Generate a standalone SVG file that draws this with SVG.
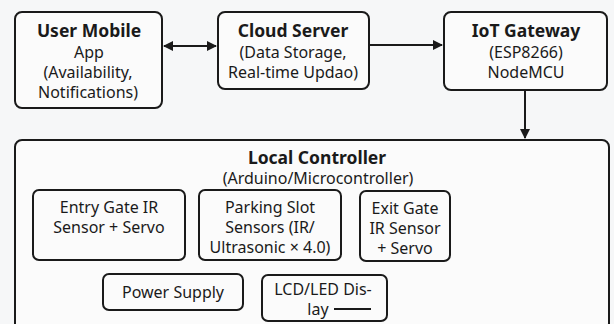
<svg xmlns="http://www.w3.org/2000/svg" width="614" height="324" viewBox="0 0 614 324">
<defs>
<style>
.box{fill:#fbfbfb;stroke:#1a1a1a;stroke-width:2}
.t{font-family:"Noto Sans","Open Sans",sans-serif;font-size:16px;fill:#1a1a1a;text-anchor:middle}
.b{font-weight:bold;font-size:17.5px}
.ln{stroke:#1a1a1a;stroke-width:2;fill:none}
</style>
<marker id="ah" viewBox="0 0 10 10" refX="9" refY="5" markerWidth="5" markerHeight="5" orient="auto-start-reverse" markerUnits="strokeWidth">
<path d="M0,0 L10,5 L0,10 z" fill="#1a1a1a"/>
</marker>
</defs>
<rect width="614" height="324" fill="#f6f7f8"/>
<g id="connectors">
<line class="ln" x1="164" y1="46" x2="216" y2="46" marker-start="url(#ah)" marker-end="url(#ah)"/>
<line class="ln" x1="370" y1="45" x2="442" y2="45" marker-end="url(#ah)"/>
<line class="ln" x1="525" y1="91" x2="525" y2="138" marker-end="url(#ah)"/>
</g>
<g id="user-mobile">
<rect class="box" x="15" y="12" width="147" height="96" rx="7"/>
<text class="t b" x="89" y="37">User Mobile</text>
<text class="t" x="89" y="58">App</text>
<text class="t" x="88" y="78">(Availability,</text>
<text class="t" x="88" y="98">Notifications)</text>
</g>
<g id="cloud-server">
<rect class="box" x="218" y="12" width="151" height="77" rx="7"/>
<text class="t b" x="293" y="37">Cloud Server</text>
<text class="t" x="293" y="58">(Data Storage,</text>
<text class="t" x="293" y="78">Real-time Updao)</text>
</g>
<g id="iot-gateway">
<rect class="box" x="444" y="12" width="163" height="78" rx="7"/>
<text class="t b" x="526" y="37">IoT Gateway</text>
<text class="t" x="526" y="58">(ESP8266)</text>
<text class="t" x="526" y="78">NodeMCU</text>
</g>
<g id="local-controller">
<rect class="box" x="15" y="140" width="594" height="190" rx="7"/>
<text class="t b" x="317" y="164">Local Controller</text>
<text class="t" x="318" y="184">(Arduino/Microcontroller)</text>
</g>
<g id="entry-gate">
<rect class="box" x="33" y="190" width="152" height="70" rx="6"/>
<text class="t" x="109" y="213">Entry Gate IR</text>
<text class="t" x="109" y="233">Sensor + Servo</text>
</g>
<g id="parking-slot">
<rect class="box" x="199" y="190" width="142" height="70" rx="6"/>
<text class="t" x="270" y="213">Parking Slot</text>
<text class="t" x="270" y="233">Sensors (IR/</text>
<text class="t" x="270" y="253">Ultrasonic × 4.0)</text>
</g>
<g id="exit-gate">
<rect class="box" x="360" y="191" width="90" height="70" rx="6"/>
<text class="t" x="405" y="214">Exit Gate</text>
<text class="t" x="405" y="234">IR Sensor</text>
<text class="t" x="405" y="254">+ Servo</text>
</g>
<g id="power-supply">
<rect class="box" x="103" y="274" width="140" height="36" rx="6"/>
<text class="t" x="173" y="298">Power Supply</text>
</g>
<g id="lcd-display">
<rect class="box" x="262" y="275" width="125" height="46" rx="6"/>
<text class="t" x="323" y="295">LCD/LED Dis-</text>
<text class="t" x="318" y="315">lay</text>
<line class="ln" x1="334" y1="309" x2="371" y2="309" stroke-width="1.5"/>
</g>
</svg>
